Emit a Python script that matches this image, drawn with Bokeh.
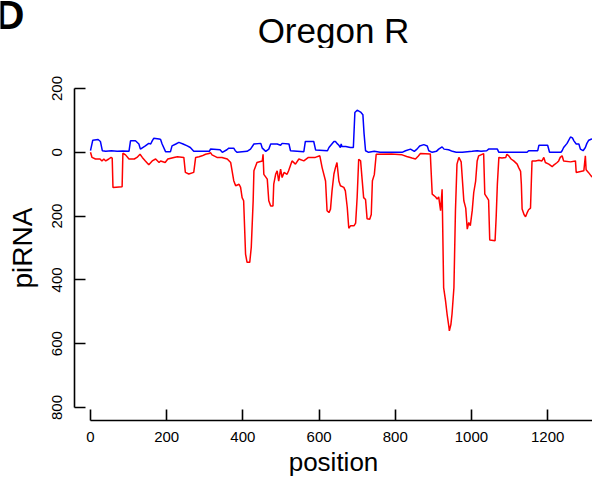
import math
from bokeh.plotting import figure
from bokeh.layouts import column
from bokeh.models import Range1d, FixedTicker, Label
from bokeh.embed import file_html
from bokeh.resources import INLINE

# ---- data ----
sense_pos = [0, 6, 20, 26, 31, 40, 55, 70, 85, 101, 105, 118, 127, 131, 136, 144, 153, 158,
             162, 166, 180, 184, 188, 197, 210, 214, 224, 232, 243, 254, 262, 271, 312, 315,
             340, 346, 358, 363, 376, 380, 385, 411, 420, 429, 447, 451, 460, 468, 473, 490,
             499, 503, 521, 525, 560, 564, 586, 591, 622, 626, 639, 643, 647, 652, 656, 658,
             660, 670, 682, 690, 694, 700, 709, 715, 718, 722, 730, 745, 760, 790, 818, 827,
             840, 850, 857, 864, 875, 884, 888, 897, 908, 914, 923, 928, 940, 950, 960, 976,
             1002, 1015, 1025, 1040, 1045, 1068, 1072, 1146, 1150, 1174, 1177, 1200, 1205,
             1235, 1238, 1242, 1251, 1260, 1265, 1269, 1275, 1282, 1286, 1293, 1299, 1303,
             1308, 1314, 1320]
sense = [5, 38, 40, 34, 5, 3, 5, 3, 4, 3, 36, 36, 26, 10, 14, 20, 28, 26,
         36, 44, 42, 40, 26, 2, 2, 20, 26, 31, 26, 20, 15, 3, 3, 10,
         8, 0, 8, 13, 13, 5, 0, 3, 10, 26, 28, 13, 3, 10, 26, 26,
         22, 28, 26, 5, 2, 34, 34, 7, 5, 15, 34, 34, 28, 22, 15, 26,
         18, 18, 15, 15, 125, 132, 126, 118, 60, 5, 0, 3, 0, 0, 0, 5,
         10, 3, 10, 20, 24, 20, 5, 0, 3, 10, 17, 10, 8, 3, 0, 0,
         3, 5, 3, 5, 10, 10, 0, 0, 5, 5, 22, 22, 0,
         0, 5, 15, 28, 48, 45, 36, 26, 26, 10, 5, 15, 28,
         38, 41, 42]

antisense_pos = [0, 4, 13, 25, 30, 35, 40, 48, 54, 57, 59, 83, 85, 92, 101, 115, 122, 130,
                 136, 144, 153, 162, 171, 180, 184, 196, 203, 219, 228, 245, 249, 258, 271,
                 276, 285, 293, 302, 311, 315, 319, 332, 345, 359, 368, 376, 381, 390, 394,
                 398, 402, 407, 411, 418, 422, 427, 429, 437, 451, 453, 455, 464, 468, 473,
                 479, 481, 486, 490, 494, 499, 503, 508, 516, 520, 529, 538, 547, 560, 572,
                 590, 602, 608, 617, 621, 626, 630, 634, 639, 643, 647, 652, 656, 665, 669,
                 674, 678, 683, 692, 696, 700, 704, 709, 713, 717, 722, 726, 733, 737, 740,
                 745, 750, 790, 818, 830, 844, 853, 860, 866, 892, 897, 906, 910, 914, 919,
                 923, 927, 932, 936, 941, 942, 946, 949, 954, 958, 962, 967, 973, 980, 985,
                 989, 993, 997, 1002, 1006, 1011, 1015, 1019, 1032, 1035, 1041, 1045, 1048,
                 1062, 1065, 1068, 1072, 1080, 1090, 1093, 1098, 1104, 1111, 1120, 1124,
                 1129, 1131, 1133, 1138, 1142, 1146, 1150, 1155, 1157, 1159, 1168, 1177,
                 1185, 1190, 1194, 1203, 1212, 1216, 1225, 1229, 1233, 1238, 1242, 1260,
                 1273, 1275, 1295, 1299, 1301, 1307, 1314, 1320]
antisense = [0, -16, -21, -21, -27, -21, -27, -21, -16, -18, -110, -108, -3, -8, -21, -21, -16, -6,
             -16, -27, -39, -27, -21, -32, -27, -32, -21, -16, -14, -16, -63, -68, -63,
             -16, -14, -11, -6, -4, -1, -8, -16, -16, -21, -32, -89, -105, -100, -110,
             -142, -152, -319, -345, -345, -298, -152, -58, -32, -27, -6, -69, -84, -152, -168,
             -168, -100, -69, -58, -90, -53, -79, -63, -69, -58, -27, -37, -21, -27, -16,
             -16, -11, -48, -90, -183, -189, -178, -121, -68, -48, -32, -90, -105, -110, -121,
             -173, -238, -230, -230, -222, -140, -22, -27, -85, -142, -148, -208, -210, -195, -89,
             -70, -6, -5, -8, -13, -18, -21, -12, -4, -5, -131, -140, -147, -140, -183,
             -116, -424, -466, -507, -549, -560, -540, -507, -424, -183, -37, -16, -30, -152, -175,
             -241, -220, -230, -183, -126, -90, -27, -11, -4, -131, -142, -150, -275,
             -277, -200, -100, -16, -18, -16, -6, -11, -21, -27, -37, -48,
             -60, -100, -178, -195, -202, -190, -180, -175, -100, -27, -27, -25,
             -27, -16, -32, -37, -45, -40, -32, -27, -16, -11, -27, -30,
             -27, -63, -58, -11, -55, -63, -74, -80]

y_ticks = [200, 0, -200, -400, -600, -800]
y_tick_labels = ["200", "0", "200", "400", "600", "800"]
x_ticks = [0, 200, 400, 600, 800, 1000, 1200, 1400]

title_text = "Oregon R"
panel_letter = "D"
x_label = "position"
y_label = "piRNA"

FONT = "Liberation Sans"

# ---- header strip holding the panel letter and the title ----
head = figure(width=592, height=48, output_backend="svg", toolbar_location=None,
              x_range=Range1d(0, 592), y_range=Range1d(0, 48),
              x_axis_location=None, y_axis_location=None,
              min_border_left=0, min_border_right=0, min_border_top=0, min_border_bottom=0)
head.frame_align = False
head.outline_line_color = None
head.xgrid.visible = False
head.ygrid.visible = False
head.background_fill_color = "white"
head.border_fill_color = "white"
head.add_layout(Label(x=333, y=18.5, text=title_text, text_font=FONT, text_font_size="35px",
                      text_align="center", text_baseline="alphabetic", text_color="black"))
head.add_layout(Label(x=-5, y=34, text=panel_letter, text_font=FONT, text_font_size="40px",
                      text_font_style="bold", text_align="left", text_baseline="alphabetic",
                      text_color="black"))

# ---- main plot ----
p = figure(width=592, height=432, output_backend="svg", toolbar_location=None,
           x_range=Range1d(-42, 1317.75), y_range=Range1d(-840.8, 240.8),
           min_border_left=74, min_border_right=0, min_border_top=27, min_border_bottom=60)
p.frame_align = False
p.background_fill_color = "white"
p.border_fill_color = "white"
p.outline_line_color = None
p.xgrid.visible = False
p.ygrid.visible = False

p.line(sense_pos, sense, line_color="#0000FF", line_width=1.5)
p.line(antisense_pos, antisense, line_color="#FF0000", line_width=1.5)

for ax in (p.xaxis[0], p.yaxis[0]):
    ax.axis_line_width = 1.6
    ax.major_tick_line_width = 1.6
    ax.major_tick_in = 11
    ax.major_tick_out = 0
    ax.minor_tick_line_color = None
    ax.major_label_text_font = FONT
    ax.major_label_text_color = "black"
    ax.axis_line_color = "black"
    ax.major_tick_line_color = "black"
    ax.axis_label_text_font = FONT
    ax.axis_label_text_font_style = "normal"
    ax.axis_label_text_color = "black"

p.xaxis[0].ticker = FixedTicker(ticks=x_ticks)
p.xaxis[0].bounds = (0, 1400)
p.xaxis[0].major_label_text_font_size = "15px"
p.xaxis[0].major_label_standoff = 11
p.xaxis[0].axis_label = x_label
p.xaxis[0].axis_label_text_font_size = "26px"
p.xaxis[0].axis_label_standoff = 2

p.yaxis[0].ticker = FixedTicker(ticks=y_ticks)
p.yaxis[0].bounds = (-800, 200)
p.yaxis[0].major_label_overrides = {t: l for t, l in zip(y_ticks, y_tick_labels)}
p.yaxis[0].major_label_orientation = "vertical"
p.yaxis[0].major_label_text_font_size = "15px"
p.yaxis[0].major_label_standoff = 12
p.yaxis[0].axis_label = y_label
p.yaxis[0].axis_label_text_font_size = "28px"
p.yaxis[0].axis_label_standoff = 12

layout = column(head, p, spacing=0)
open("out.html", "w").write(file_html(layout, INLINE))
